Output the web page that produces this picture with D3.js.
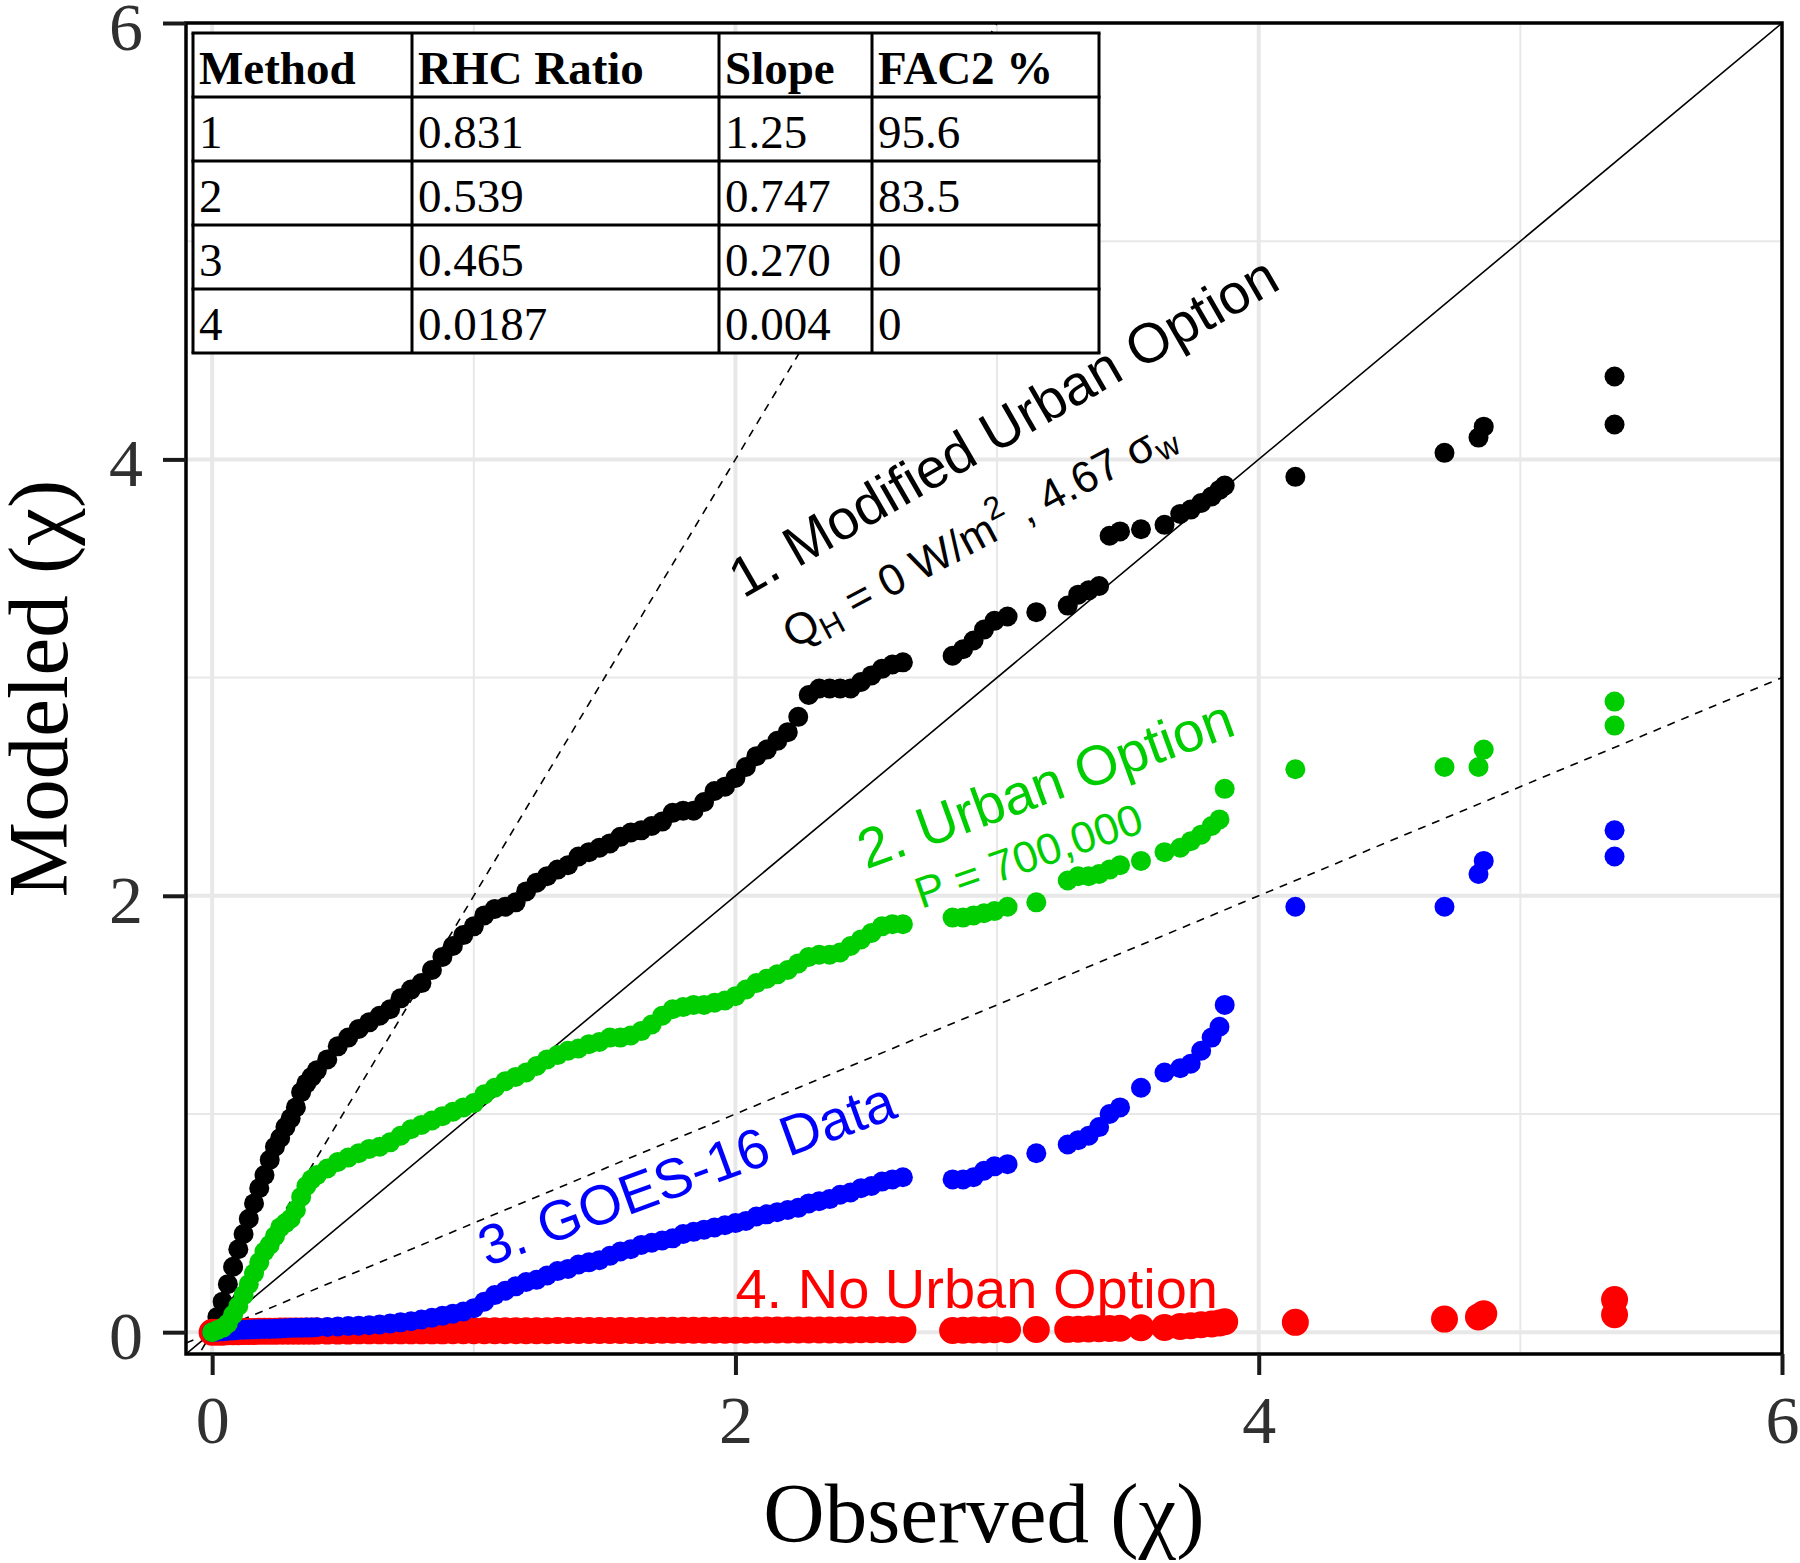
<!DOCTYPE html>
<meta charset="utf-8">
<style>
  body { margin: 0; background: #fff; }
</style>
<body>
<div id="chart"></div>
<script src="https://cdn.jsdelivr.net/npm/d3@7"></script>
<script>
// observed quantiles (shared by all four methods)
const observed = [
  0, 0.02, 0.04, 0.06, 0.08, 0.10, 0.12, 0.14, 0.16, 0.18,
  0.20, 0.22, 0.24, 0.26, 0.28, 0.30, 0.32, 0.34, 0.36, 0.38,
  0.40, 0.44, 0.48, 0.52, 0.56, 0.60, 0.64, 0.68, 0.72, 0.76,
  0.80, 0.84, 0.88, 0.92, 0.96, 1.00, 1.04, 1.08, 1.12, 1.16,
  1.20, 1.24, 1.28, 1.32, 1.36, 1.40, 1.44, 1.48, 1.52, 1.56,
  1.60, 1.64, 1.68, 1.72, 1.76, 1.80, 1.84, 1.88, 1.92, 1.96,
  2.00, 2.04, 2.08, 2.12, 2.16, 2.20, 2.24, 2.28, 2.32, 2.36,
  2.40, 2.44, 2.48, 2.52, 2.56, 2.60, 2.64,
  2.83, 2.87, 2.91, 2.95, 2.99, 3.04, 3.15, 3.27, 3.31, 3.35,
  3.39, 3.43, 3.47, 3.55, 3.64, 3.70, 3.74, 3.78, 3.82, 3.85,
  3.87, 4.14, 4.71, 4.84, 4.86, 5.36, 5.36
];

// 1. Modified Urban Option
const method1 = [
  0, 0.07, 0.14, 0.22, 0.30, 0.38, 0.45, 0.52, 0.59, 0.66,
  0.72, 0.79, 0.85, 0.89, 0.94, 0.98, 1.03, 1.10, 1.14, 1.17,
  1.20, 1.25, 1.31, 1.35, 1.39, 1.42, 1.45, 1.48, 1.53, 1.57,
  1.60, 1.66, 1.72, 1.77, 1.82, 1.86, 1.91, 1.94, 1.95, 1.97,
  2.02, 2.06, 2.09, 2.12, 2.14, 2.18, 2.20, 2.22, 2.24, 2.27,
  2.29, 2.30, 2.32, 2.34, 2.38, 2.39, 2.39, 2.43, 2.48, 2.50,
  2.54, 2.59, 2.64, 2.67, 2.71, 2.75, 2.82, 2.92, 2.95, 2.95,
  2.95, 2.95, 2.98, 3.01, 3.04, 3.06, 3.07,
  3.10, 3.13, 3.17, 3.22, 3.26, 3.28, 3.30, 3.33, 3.38, 3.40,
  3.42, 3.65, 3.67, 3.68, 3.70, 3.75, 3.77, 3.80, 3.83, 3.86,
  3.88, 3.92, 4.03, 4.10, 4.15, 4.16, 4.38
];

// 2. Urban Option
const method2 = [
  0, 0.01, 0.02, 0.04, 0.08, 0.12, 0.17, 0.22, 0.27, 0.32,
  0.37, 0.40, 0.44, 0.48, 0.50, 0.52, 0.56, 0.62, 0.67, 0.70,
  0.72, 0.75, 0.78, 0.80, 0.82, 0.84, 0.85, 0.87, 0.90, 0.93,
  0.95, 0.97, 0.99, 1.01, 1.03, 1.05, 1.09, 1.12, 1.15, 1.17,
  1.19, 1.22, 1.25, 1.27, 1.29, 1.30, 1.32, 1.33, 1.35, 1.35,
  1.36, 1.38, 1.41, 1.45, 1.48, 1.49, 1.50, 1.50, 1.51, 1.52,
  1.54, 1.57, 1.60, 1.62, 1.64, 1.66, 1.69, 1.72, 1.73, 1.73,
  1.74, 1.77, 1.80, 1.83, 1.86, 1.87, 1.87,
  1.90, 1.90, 1.91, 1.92, 1.93, 1.95, 1.97, 2.07, 2.09, 2.09,
  2.10, 2.12, 2.14, 2.16, 2.20, 2.22, 2.25, 2.28, 2.32, 2.35,
  2.49, 2.58, 2.59, 2.59, 2.67, 2.78, 2.89
];

// 3. GOES-16 Data
const method3 = [
  0, 0.002, 0.004, 0.006, 0.008, 0.010, 0.011, 0.012, 0.013, 0.014,
  0.015, 0.015, 0.016, 0.017, 0.018, 0.019, 0.020, 0.020, 0.021, 0.022,
  0.023, 0.024, 0.026, 0.028, 0.030, 0.032, 0.035, 0.040, 0.045, 0.050,
  0.058, 0.066, 0.075, 0.085, 0.095, 0.11, 0.14, 0.17, 0.19, 0.21,
  0.23, 0.24, 0.26, 0.28, 0.29, 0.31, 0.32, 0.33, 0.35, 0.37,
  0.38, 0.40, 0.41, 0.42, 0.43, 0.45, 0.46, 0.47, 0.48, 0.49,
  0.50, 0.51, 0.53, 0.54, 0.55, 0.56, 0.57, 0.59, 0.60, 0.61,
  0.63, 0.64, 0.66, 0.67, 0.69, 0.70, 0.71,
  0.70, 0.70, 0.71, 0.74, 0.76, 0.77, 0.82, 0.86, 0.88, 0.90,
  0.94, 1.00, 1.03, 1.12, 1.19, 1.21, 1.23, 1.29, 1.35, 1.40,
  1.50, 1.95, 1.95, 2.10, 2.16, 2.18, 2.30
];

// 4. No Urban Option
const method4 = [
  0, 0, 0, 0.002, 0.002, 0.002, 0.003, 0.003, 0.003, 0.004,
  0.004, 0.004, 0.004, 0.005, 0.005, 0.005, 0.005, 0.005, 0.005, 0.005,
  0.005, 0.005, 0.005, 0.005, 0.006, 0.006, 0.006, 0.006, 0.006, 0.006,
  0.006, 0.006, 0.006, 0.007, 0.007, 0.007, 0.007, 0.007, 0.007, 0.007,
  0.007, 0.007, 0.007, 0.008, 0.008, 0.008, 0.008, 0.008, 0.008, 0.008,
  0.008, 0.008, 0.008, 0.009, 0.009, 0.009, 0.009, 0.009, 0.009, 0.009,
  0.009, 0.009, 0.010, 0.010, 0.010, 0.010, 0.010, 0.010, 0.010, 0.010,
  0.010, 0.010, 0.011, 0.011, 0.011, 0.011, 0.011,
  0.008, 0.009, 0.010, 0.010, 0.011, 0.011, 0.012, 0.013, 0.014, 0.015,
  0.016, 0.017, 0.018, 0.020, 0.022, 0.026, 0.030, 0.034, 0.038, 0.042,
  0.048, 0.045, 0.060, 0.070, 0.085, 0.080, 0.150
];

const majorTicks = [0, 2, 4, 6];
const minorTicks = [1, 3, 5];
const refSlopes = [1, 2, 0.5];   // 1:1 and factor-of-two lines

const tableHeader = ["Method", "RHC Ratio", "Slope", "FAC2 %"];
const tableRows = [
  ["1", "0.831", "1.25", "95.6"],
  ["2", "0.539", "0.747", "83.5"],
  ["3", "0.465", "0.270", "0"],
  ["4", "0.0187", "0.004", "0"]
];

const width = 1800, height = 1563;
const serif = "'Liberation Serif', 'Times New Roman', serif";
const sans = "'Liberation Sans', Arial, sans-serif";

const svg = d3.select("#chart").append("svg")
    .attr("width", width)
    .attr("height", height)
    .style("background", "#fff");

const x = d3.scaleLinear().domain([-0.1, 6]).range([186, 1782]);
const y = d3.scaleLinear().domain([-0.1, 6]).range([1354, 23]);

svg.append("clipPath").attr("id", "panel")
  .append("rect")
    .attr("x", x.range()[0]).attr("y", y.range()[1])
    .attr("width", x.range()[1] - x.range()[0])
    .attr("height", y.range()[0] - y.range()[1]);

// grid
const grid = svg.append("g").attr("clip-path", "url(#panel)");
[[minorTicks, 2], [majorTicks.slice(0, 3), 4]].forEach(([vals, w]) => {
  grid.selectAll(null).data(vals).enter().append("line")
      .attr("x1", d => x(d)).attr("x2", d => x(d))
      .attr("y1", y.range()[0]).attr("y2", y.range()[1])
      .attr("stroke", "#e8e8e8").attr("stroke-width", w);
  grid.selectAll(null).data(vals).enter().append("line")
      .attr("y1", d => y(d)).attr("y2", d => y(d))
      .attr("x1", x.range()[0]).attr("x2", x.range()[1])
      .attr("stroke", "#e8e8e8").attr("stroke-width", w);
});

// reference lines
const xd = x.domain();
grid.selectAll(null).data(refSlopes).enter().append("line")
    .attr("x1", x(xd[0])).attr("y1", s => y(xd[0] * s))
    .attr("x2", x(xd[1])).attr("y2", s => y(xd[1] * s))
    .attr("stroke", "#000")
    .attr("stroke-width", 1.6)
    .attr("stroke-dasharray", s => s === 1 ? null : "8,7");

// points, drawn black, red, blue, green
const series = [
  { values: method1, color: "#000000", r: 10 },
  { values: method4, color: "#ff0000", r: 13.5 },
  { values: method3, color: "#0000ff", r: 10 },
  { values: method2, color: "#00cd00", r: 10 }
];
const pts = svg.append("g").attr("clip-path", "url(#panel)");
series.forEach(s => {
  pts.append("g").selectAll("circle")
    .data(d3.zip(observed, s.values))
    .enter().append("circle")
      .attr("cx", d => x(d[0]))
      .attr("cy", d => y(d[1]))
      .attr("r", s.r)
      .attr("fill", s.color);
});

// table (white background, hides lines underneath)
const colEdges = [193, 412, 719, 872, 1099];
const rowTop = 33, rowH = 64;
const table = svg.append("g");
const allRows = [tableHeader].concat(tableRows);
table.append("rect")
    .attr("x", colEdges[0]).attr("y", rowTop)
    .attr("width", colEdges[4] - colEdges[0])
    .attr("height", rowH * allRows.length)
    .attr("fill", "#fff");
allRows.forEach((row, i) => {
  table.selectAll(null).data(row).enter().append("text")
      .attr("x", (d, j) => colEdges[j] + 6)
      .attr("y", rowTop + i * rowH + 51)
      .attr("font-family", serif)
      .attr("font-size", 47)
      .attr("font-weight", i === 0 ? "bold" : "normal")
      .attr("fill", "#000")
      .text(d => d);
});
table.selectAll(null).data(d3.range(allRows.length + 1)).enter().append("line")
    .attr("x1", colEdges[0] - 1.5).attr("x2", colEdges[4] + 1.5)
    .attr("y1", i => rowTop + i * rowH).attr("y2", i => rowTop + i * rowH)
    .attr("stroke", "#000").attr("stroke-width", 3);
table.selectAll(null).data(colEdges).enter().append("line")
    .attr("x1", d => d).attr("x2", d => d)
    .attr("y1", rowTop).attr("y2", rowTop + rowH * allRows.length)
    .attr("stroke", "#000").attr("stroke-width", 3);

// panel border
svg.append("rect")
    .attr("x", x.range()[0]).attr("y", y.range()[1])
    .attr("width", x.range()[1] - x.range()[0])
    .attr("height", y.range()[0] - y.range()[1])
    .attr("fill", "none").attr("stroke", "#000").attr("stroke-width", 3.5);

// axes
function styleAxis(g) {
  g.select(".domain").remove();
  g.selectAll(".tick line").attr("stroke", "#1a1a1a").attr("stroke-width", 4);
  g.selectAll(".tick text")
      .attr("font-family", serif)
      .attr("font-size", 68)
      .attr("fill", "#303030");
}
svg.append("g")
    .attr("transform", `translate(${x.range()[0]},0)`)
    .call(d3.axisLeft(y).tickValues(majorTicks).tickFormat(d3.format("d"))
      .tickSize(23).tickPadding(20))
    .call(styleAxis)
    .call(g => g.selectAll(".tick text").attr("dy", "0.39em"));
svg.append("g")
    .attr("transform", `translate(0,${y.range()[0]})`)
    .call(d3.axisBottom(x).tickValues(majorTicks).tickFormat(d3.format("d"))
      .tickSize(21).tickPadding(20))
    .call(styleAxis);

// axis titles
svg.append("text")
    .attr("x", (x.range()[0] + x.range()[1]) / 2)
    .attr("y", 1542)
    .attr("text-anchor", "middle")
    .attr("font-family", serif)
    .attr("font-size", 85)
    .text("Observed (χ)");
svg.append("text")
    .attr("transform", `translate(67,${(y.range()[0] + y.range()[1]) / 2}) rotate(-90)`)
    .attr("text-anchor", "middle")
    .attr("font-family", serif)
    .attr("font-size", 85)
    .text("Modeled (χ)");

// annotations
function label(px, py, angle, size, color, txt) {
  return svg.append("text")
      .attr("transform", `translate(${x(px)},${y(py)}) rotate(${angle})`)
      .attr("font-family", sans)
      .attr("font-size", size)
      .attr("fill", color)
      .text(txt);
}
label(2.03, 3.36, -30, 56, "#000", "1. Modified Urban Option");
const qh = svg.append("text")
    .attr("transform", `translate(${x(2.22)},${y(3.13)}) rotate(-28)`)
    .attr("font-family", sans)
    .attr("font-size", 44)
    .attr("fill", "#000");
qh.append("tspan").text("Q");
qh.append("tspan").attr("font-size", 32).attr("dy", 8).text("H");
qh.append("tspan").attr("dy", -8).text(" = 0 W/m");
qh.append("tspan").attr("font-size", 32).attr("dy", -20).text("2");
qh.append("tspan").attr("dy", 20).text(" , 4.67 σ");
qh.append("tspan").attr("font-size", 32).attr("dy", 8).text("w");

label(2.50, 2.12, -20, 56, "#00cd00", "2. Urban Option");
label(2.71, 1.94, -19, 44, "#00cd00", "P = 700,000");
label(1.05, 0.30, -20, 56, "#0000ff", "3. GOES-16 Data");
label(2.00, 0.11, 0, 56, "#ff0000", "4. No Urban Option");
</script>
</body>
